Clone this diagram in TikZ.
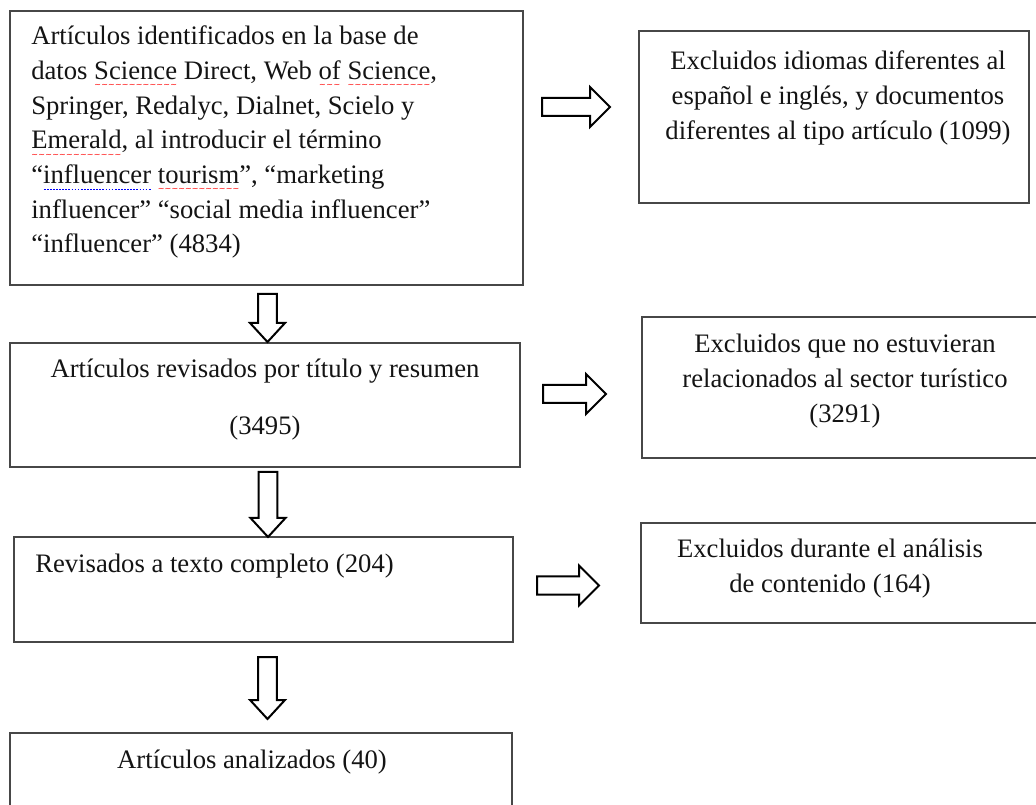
\documentclass[tikz,border=0pt]{standalone}
\usepackage{fontspec}
\setmainfont{Liberation Serif}
\newfontfamily\wavefont{DejaVu Sans}
\usetikzlibrary{calc,fit}
\newcommand\redsq[1]{\setbox0\hbox{#1}\leavevmode\rlap{\textcolor{red}{\lower6.2pt\hbox to\wd0{\wavefont\fontsize{6}{6}\selectfont\xleaders\hbox{∼}\hfil}}}\box0\relax}
\newcommand\bluedot[1]{\setbox0\hbox{#1}\leavevmode\rlap{\textcolor{blue}{\lower4.6pt\hbox to\wd0{\xleaders\hbox{\kern0.5pt\vrule width1.3pt height0.7pt\kern0.5pt}\hfil}}}\box0\relax}
\newcommand\leftlines[1]{\vtop{\halign{##\hfil\cr#1\crcr}}}
\newcommand\ctrlines[1]{\vtop{\halign{\hfil##\hfil\cr#1\crcr}}}
\begin{document}
\begin{tikzpicture}[x=0.75pt,y=-0.75pt,
  box/.style={draw=black!72,line width=0.85pt,inner sep=0pt},
  txt/.style={inner sep=0pt,font=\fontsize{20}{26}\selectfont,text=black!92},
  rblock/.style={draw=black,line width=1.5pt,line join=miter,
    to path={let \p1=(\tikztostart),\p2=(\tikztotarget) in
      (\x1,\y1+6.75pt) -- (\x2-15pt,\y1+6.75pt) -- (\x2-15pt,\y1+15pt) -- (\x2,\y1)
      -- (\x2-15pt,\y1-15pt) -- (\x2-15pt,\y1-6.75pt) -- (\x1,\y1-6.75pt) -- cycle}},
  dblock/.style={draw=black,line width=1.5pt,line join=miter,
    to path={let \p1=(\tikztostart),\p2=(\tikztotarget) in
      (\x1-7.1pt,\y1) -- (\x1-7.1pt,\y2+14.25pt) -- (\x1-13.1pt,\y2+14.25pt) -- (\x1,\y2)
      -- (\x1+13.1pt,\y2+14.25pt) -- (\x1+7.1pt,\y2+14.25pt) -- (\x1+7.1pt,\y1) -- cycle}}]
\useasboundingbox (0,0) rectangle (1036,805);
\clip (0,0) rectangle (1036,805);
\fill[white] (0,0) rectangle (1036,805);

% boxes
\node[box,fit={(10,11)(523,285)}] (b1) {};
\node[box,fit={(639,31)(1029,203)}] (r1) {};
\node[box,fit={(10,343)(520,467)}] (b2) {};
\node[box,fit={(642,317)(1046,458)}] (r2) {};
\node[box,fit={(14,537)(513,642)}] (b3) {};
\node[box,fit={(641,523)(1046,623)}] (r3) {};
\node[box,fit={(10,733)(512,830)}] (b4) {};

% texts
\node[txt,anchor=base west] (t1) at (31,45) {\leftlines{%
Artículos identificados en la base de\cr
datos \redsq{Science} Direct, Web \redsq{of} \redsq{Science},\cr
Springer, Redalyc, Dialnet, Scielo y\cr
\redsq{Emerald}, al introducir el término\cr
“\bluedot{influencer} \redsq{tourism}”, “marketing\cr
influencer” “social media influencer”\cr
“influencer” (4834)}};
\node[txt,anchor=base] (tr1) at (838,70) {\ctrlines{%
Excluidos idiomas diferentes al\cr
español e inglés, y documentos\cr
diferentes al tipo artículo (1099)}};
\node[txt,anchor=base] (t2) at (265,378) {\ctrlines{%
Artículos revisados por título y resumen\cr
\noalign{\vskip16.75pt}
(3495)}};
\node[txt,anchor=base] (tr2) at (845,353) {\ctrlines{%
Excluidos que no estuvieran\cr
relacionados al sector turístico\cr
(3291)}};
\node[txt,anchor=base west] (t3) at (35,572) {Revisados a texto completo (204)};
\node[txt,anchor=base] (tr3) at (830,558) {\ctrlines{%
Excluidos durante el análisis\cr
de contenido (164)}};
\node[txt,anchor=base] (t4) at (252,768) {Artículos analizados (40)};

% arrow end points
\coordinate (a1s) at (542,107);   \coordinate (a1e) at (610,107);
\coordinate (a2s) at (543,394);   \coordinate (a2e) at (606,394);
\coordinate (a3s) at (537,585.5); \coordinate (a3e) at (599,585.5);
\coordinate (d1s) at (267.5,294); \coordinate (d1e) at (267.5,342);
\coordinate (d2s) at (268,472);   \coordinate (d2e) at (268,537);
\coordinate (d3s) at (267.5,657); \coordinate (d3e) at (267.5,719);

% block arrows
\draw[rblock] (a1s) to (a1e);
\draw[rblock] (a2s) to (a2e);
\draw[rblock] (a3s) to (a3e);
\draw[dblock] (d1s) to (d1e);
\draw[dblock] (d2s) to (d2e);
\draw[dblock] (d3s) to (d3e);
\end{tikzpicture}
\end{document}
